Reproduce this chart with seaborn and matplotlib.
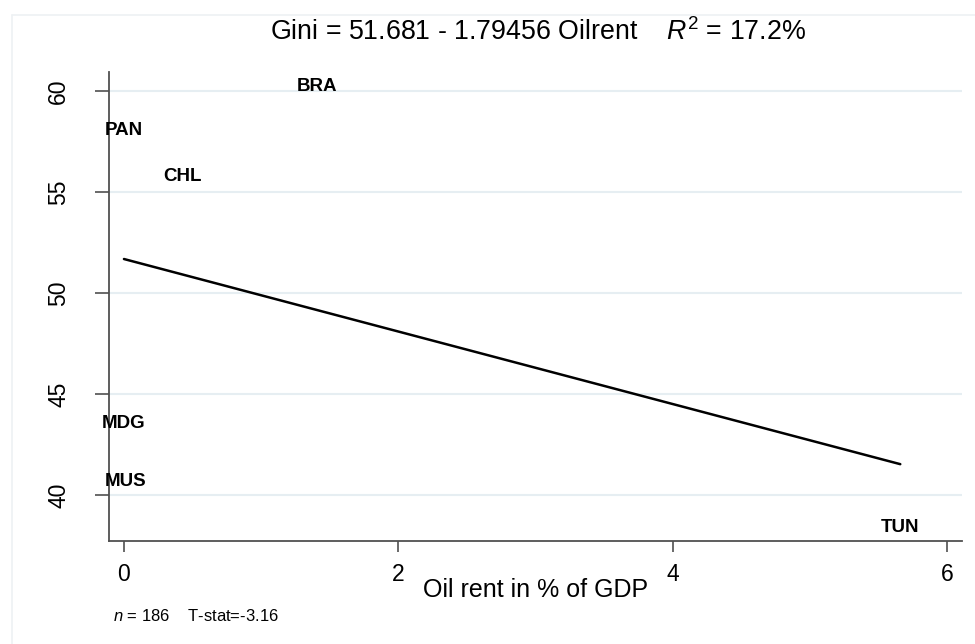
import numpy as np
import pandas as pd
import matplotlib
matplotlib.use("Agg")
import matplotlib.pyplot as plt
from matplotlib.lines import Line2D
import seaborn as sns

# labelled countries (oil rent in % of GDP, Gini)
countries = ["BRA", "PAN", "CHL", "MDG", "MUS", "TUN"]
oil_rent = [1.41, 0.0, 0.43, 0.0, 0.01, 5.66]
gini = [60.2, 58.03, 55.76, 43.56, 40.66, 38.38]

# fitted regression (from the title)
intercept = 51.681
slope = -1.79456
r2 = 17.2
n_obs = 186
t_stat = -3.16

x_ticks = [0, 2, 4, 6]
y_ticks = [40, 45, 50, 55, 60]

sns.set_style("white")
plt.rcParams["font.family"] = ["Liberation Sans", "DejaVu Sans"]
plt.rcParams["mathtext.fontset"] = "custom"
plt.rcParams["mathtext.rm"] = "Liberation Sans"
plt.rcParams["mathtext.it"] = "Liberation Sans:italic"
plt.rcParams["text.color"] = "black"
plt.rcParams["xtick.labelcolor"] = "black"
plt.rcParams["ytick.labelcolor"] = "black"
plt.rcParams["axes.labelcolor"] = "black"

df = pd.DataFrame({"country": countries, "oil": oil_rent, "gini": gini})
fit_x = np.array([df["oil"].min(), df["oil"].max()])
fit = pd.DataFrame({"oil": fit_x, "gini": intercept + slope * fit_x})

fig = plt.figure(figsize=(9.75, 6.44), dpi=100)
ax = fig.add_axes([109 / 975, 1 - 541 / 644, (962 - 109) / 975, (541 - 72) / 644])

ax.set_xlim(-0.109, 6.11)
ax.set_ylim(37.72, 60.94)

for yt in y_ticks:
    ax.axhline(yt, color="#e6eef2", lw=1.5, zorder=0)

sns.lineplot(data=fit, x="oil", y="gini", ax=ax, color="black", lw=1.8)

for _, row in df.iterrows():
    ax.text(row["oil"], row["gini"], row["country"], ha="center", va="center",
            fontsize=13.5, fontweight="heavy", color="black")

for side in ["top", "right"]:
    ax.spines[side].set_visible(False)
for side in ["left", "bottom"]:
    ax.spines[side].set_color("#505050")
    ax.spines[side].set_linewidth(1.3)

ax.set_xticks(x_ticks)
ax.set_yticks(y_ticks)
ax.set_yticklabels([str(v) for v in y_ticks], rotation=90, va="center")
ax.tick_params(axis="x", direction="out", length=8, width=1.2, color="#505050",
               labelsize=16.5, pad=8, bottom=True)
ax.tick_params(axis="y", direction="out", length=10, width=1.2, color="#505050",
               labelsize=16.5, pad=18, left=True)
ax.set_xlabel("Oil rent in % of GDP", fontsize=18, labelpad=-6)
ax.set_ylabel("")

fig.text(0.552, 1 - 32 / 644,
         "Gini = {} - {} Oilrent    $\\mathit{{R}}^{{2}}$ = {}%".format(intercept, -slope, r2),
         ha="center", va="center", fontsize=19.3)
fig.text(113 / 975, 1 - 616 / 644,
         "$\\mathit{{n}}$ = {}    T-stat={}".format(n_obs, t_stat),
         ha="left", va="center", fontsize=12)

# light outer frame of the graph region
fig.add_artist(Line2D([12 / 975, 1], [1 - 15 / 644, 1 - 15 / 644],
                      transform=fig.transFigure, color="#eef1f3", lw=1.2))
fig.add_artist(Line2D([12 / 975, 12 / 975], [0, 1 - 15 / 644],
                      transform=fig.transFigure, color="#eef1f3", lw=1.2))

fig.savefig("out.png", dpi=100)
